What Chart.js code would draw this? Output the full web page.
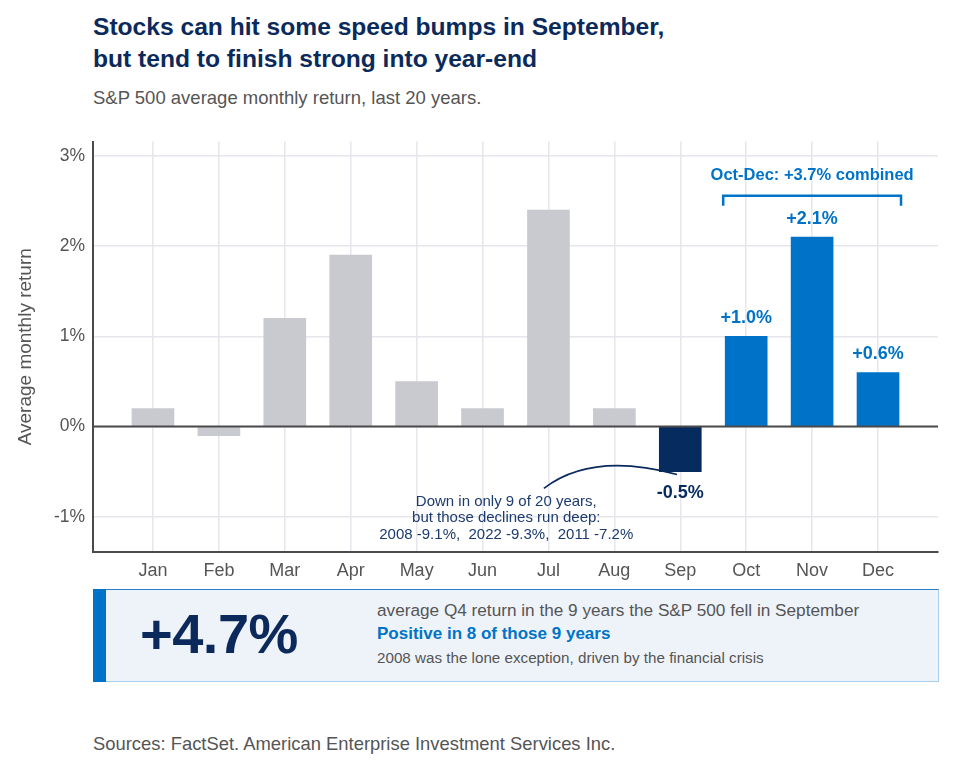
<!DOCTYPE html>
<html>
<head>
<meta charset="utf-8">
<script src="https://cdn.jsdelivr.net/npm/chart.js@4.4.1/dist/chart.umd.min.js"></script>
<style>
  body { margin: 0; background: #fff; font-family: 'Liberation Sans', Arial, sans-serif; }
  #page { position: relative; width: 956px; height: 771px; overflow: hidden; }
  .abs { position: absolute; white-space: nowrap; }
  #title { left: 93px; top: 11px; font-size: 24.6px; line-height: 32px; font-weight: bold; color: #0b2a5b; }
  #subtitle { left: 93px; top: 87px; font-size: 18.5px; line-height: 22px; color: #555; }
  #chartBox { position: absolute; left: 0; top: 123px; width: 956px; height: 462px; }
  #callout { position: absolute; left: 93px; top: 589px; width: 844px; height: 91px;
             background: #eef3fa; border: 1px solid #a9cff0; border-top-color: #2a7fca; box-sizing: content-box; }
  #callout .bar { position: absolute; left: -1px; top: -1px; width: 13px; height: 93px; background: #0073c8; }
  #big { left: 46px; top: 12px; font-size: 56px; line-height: 64px; font-weight: bold; color: #0b2a5b; letter-spacing: -0.5px; }
  #l1 { left: 283px; top: 9px; font-size: 17.2px; line-height: 22px; color: #555; }
  #l2 { left: 283px; top: 33px; font-size: 17px; line-height: 22px; color: #0073c8; font-weight: bold; }
  #l3 { left: 283px; top: 58px; font-size: 15.2px; line-height: 20px; color: #555; }
  #sources { left: 93px; top: 733px; font-size: 18.4px; line-height: 22px; color: #555; }
</style>
</head>
<body>
<div id="page">
  <div id="title" class="abs">Stocks can hit some speed bumps in September,<br>but tend to finish strong into year-end</div>
  <div id="subtitle" class="abs">S&amp;P 500 average monthly return, last 20 years.</div>
  <div id="chartBox"><canvas id="chart"></canvas></div>
  <div id="callout">
    <div class="bar"></div>
    <div id="big" class="abs">+4.7%</div>
    <div id="l1" class="abs">average Q4 return in the 9 years the S&amp;P 500 fell in September</div>
    <div id="l2" class="abs">Positive in 8 of those 9 years</div>
    <div id="l3" class="abs">2008 was the lone exception, driven by the financial crisis</div>
  </div>
  <div id="sources" class="abs">Sources: FactSet. American Enterprise Investment Services Inc.</div>
</div>
<script>
const months = ["Jan", "Feb", "Mar", "Apr", "May", "Jun", "Jul", "Aug", "Sep", "Oct", "Nov", "Dec"];
const avgReturn = [0.2, -0.1, 1.2, 1.9, 0.5, 0.2, 2.4, 0.2, -0.5, 1.0, 2.1, 0.6];
const yTicks = [-1, 0, 1, 2, 3];
const labelled = ["Sep", "Oct", "Nov", "Dec"];
const noteLines = ["Down in only 9 of 20 years,", "but those declines run deep:", "2008 -9.1%,  2022 -9.3%,  2011 -7.2%"];

const GRAY = "#c8cad0";
const NAVY = "#062b5e";
const BLUE = "#0073c8";
const FONT = "'Liberation Sans', Arial, sans-serif";

function barColor(m) {
    if (m === "Sep") return NAVY;
    if (m === "Oct" || m === "Nov" || m === "Dec") return BLUE;
    return GRAY;
}

function fmt(v) {
    return (v > 0 ? "+" : "") + v.toFixed(1) + "%";
}

const annotations = {
    id: "annotations",
    afterDatasetsDraw(chart) {
        const ctx = chart.ctx;
        const x = chart.scales.x;
        const y = chart.scales.y;
        const area = chart.chartArea;

        // zero line
        ctx.save();
        ctx.strokeStyle = "#4a4a4a";
        ctx.lineWidth = 2;
        ctx.beginPath();
        ctx.moveTo(area.left, y.getPixelForValue(0));
        ctx.lineTo(area.right, y.getPixelForValue(0));
        ctx.stroke();

        // value labels
        ctx.font = "bold 18px " + FONT;
        ctx.textAlign = "center";
        ctx.textBaseline = "middle";
        labelled.forEach(m => {
            const i = months.indexOf(m);
            const v = avgReturn[i];
            const px = x.getPixelForValue(i);
            const py = y.getPixelForValue(v) + (v < 0 ? 21 : -18);
            ctx.fillStyle = v < 0 ? NAVY : BLUE;
            ctx.fillText(fmt(v), px, py);
        });

        // Q4 bracket
        const bx1 = x.getPixelForValue(9) - 23;
        const bx2 = x.getPixelForValue(11) + 23;
        const by = y.getPixelForValue(2.56);
        ctx.strokeStyle = BLUE;
        ctx.lineWidth = 2.5;
        ctx.beginPath();
        ctx.moveTo(bx1, by + 10);
        ctx.lineTo(bx1, by);
        ctx.lineTo(bx2, by);
        ctx.lineTo(bx2, by + 10);
        ctx.stroke();
        ctx.fillStyle = BLUE;
        ctx.font = "bold 16.5px " + FONT;
        ctx.fillText("Oct-Dec: +3.7% combined", (bx1 + bx2) / 2, y.getPixelForValue(2.78));

        // September note with curved pointer
        ctx.strokeStyle = "#0b2a5b";
        ctx.lineWidth = 1.6;
        ctx.beginPath();
        ctx.moveTo(x.getPixelForValue(5.93), y.getPixelForValue(-0.685));
        ctx.quadraticCurveTo(x.getPixelForValue(6.66), y.getPixelForValue(-0.276),
                             x.getPixelForValue(7.95), y.getPixelForValue(-0.53));
        ctx.stroke();
        ctx.fillStyle = "#1c3b6e";
        ctx.font = "15px " + FONT;
        const nx = x.getPixelForValue(5.36);
        noteLines.forEach((t, k) => {
            ctx.fillText(t, nx, y.getPixelForValue(-0.83) + k * 16.5);
        });
        ctx.restore();
    }
};

const ctx = document.getElementById("chart").getContext("2d");

new Chart(ctx, {
    type: "bar",
    data: {
        datasets: [{
            data: months.map((m, i) => ({ x: i, y: avgReturn[i] })),
            backgroundColor: months.map(barColor),
            barThickness: 42,
            borderWidth: 0
        }]
    },
    options: {
        responsive: true,
        maintainAspectRatio: false,
        animation: false,
        layout: { padding: { top: 4, right: 18, left: 0, bottom: 0 } },
        plugins: {
            legend: { display: false },
            tooltip: { enabled: false }
        },
        scales: {
            x: {
                type: "linear",
                offset: false,
                min: -0.91,
                max: 11.91,
                grid: { color: "#e6e6ec", lineWidth: 1.5, drawTicks: false, offset: false },
                border: { color: "#4a4a4a", width: 2 },
                ticks: {
                    stepSize: 1,
                    includeBounds: false,
                    padding: 8,
                    color: "#555",
                    font: { family: FONT, size: 18 },
                    callback: v => months[v]
                },
                afterFit: s => { s.height = 33; }
            },
            y: {
                min: -1.39,
                max: 3.16,
                grid: { color: "#e6e6ec", lineWidth: 1.5, drawTicks: false },
                border: { color: "#4a4a4a", width: 2 },
                afterBuildTicks: s => { s.ticks = yTicks.map(v => ({ value: v })); },
                ticks: {
                    padding: 8,
                    color: "#555",
                    font: { family: FONT, size: 17.5 },
                    callback: v => v + "%"
                },
                title: {
                    display: true,
                    text: "Average monthly return",
                    color: "#555",
                    font: { family: FONT, size: 19 },
                    padding: { top: 14, bottom: 0 }
                },
                afterFit: s => { s.width = 93; }
            }
        }
    },
    plugins: [annotations]
});
</script>
</body>
</html>
